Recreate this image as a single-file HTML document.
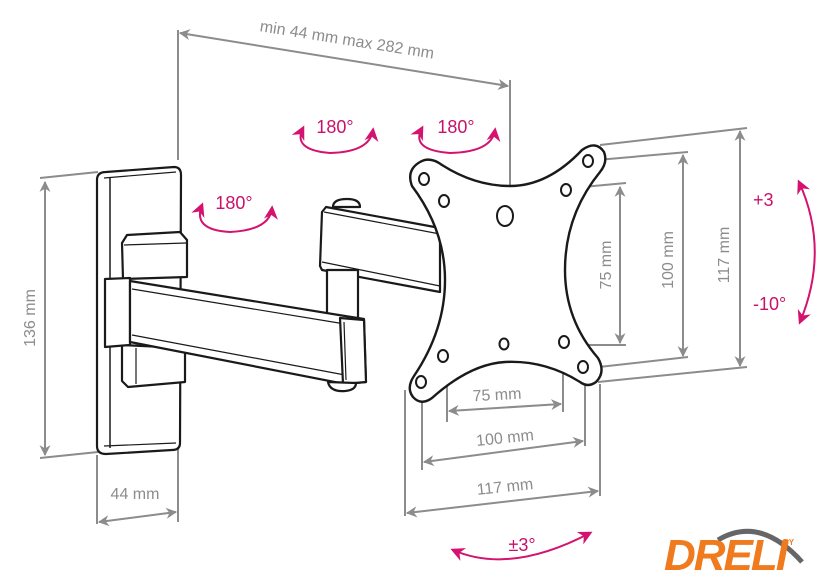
<!DOCTYPE html>
<html><head><meta charset="utf-8"><style>
html,body{margin:0;padding:0;background:#fff;}
svg{display:block;}
text{font-family:"Liberation Sans",sans-serif;}
</style></head><body>
<svg width="840" height="585" viewBox="0 0 840 585" xmlns="http://www.w3.org/2000/svg">
<defs>
<marker id="ga2" viewBox="0 0 10 10" refX="9" refY="5" markerWidth="18" markerHeight="11" orient="auto-start-reverse" markerUnits="userSpaceOnUse">
<path d="M0,0 L10,5 L0,10 L3,5 z" fill="#8c8c8c"/></marker>
<marker id="pa" viewBox="0 0 10 10" refX="8" refY="5" markerWidth="17" markerHeight="14" orient="auto-start-reverse" markerUnits="userSpaceOnUse">
<path d="M0,0 L10,5 L0,10 L3,5 z" fill="#d4126f"/></marker>
</defs>

<g stroke="#8c8c8c" stroke-width="2" fill="none">
<line x1="178" y1="30" x2="178" y2="160"/>
<line x1="510" y1="80" x2="510" y2="186"/>
<line x1="180" y1="33" x2="508" y2="86" marker-start="url(#ga2)" marker-end="url(#ga2)"/>
<line x1="40" y1="178" x2="98" y2="172"/>
<line x1="40" y1="458" x2="98" y2="452"/>
<line x1="45" y1="182" x2="45" y2="455" marker-start="url(#ga2)" marker-end="url(#ga2)"/>
<line x1="97" y1="455" x2="97" y2="524"/>
<line x1="178" y1="445" x2="178" y2="522"/>
<line x1="99" y1="522" x2="176" y2="512" marker-start="url(#ga2)" marker-end="url(#ga2)"/>
<line x1="600" y1="145" x2="747" y2="128"/>
<line x1="597" y1="160" x2="688" y2="152"/>
<line x1="572" y1="188" x2="626" y2="183"/>
<line x1="568" y1="345" x2="626" y2="345"/>
<line x1="590" y1="368" x2="688" y2="357"/>
<line x1="598" y1="382" x2="747" y2="367"/>
<line x1="620" y1="187" x2="620" y2="343" marker-start="url(#ga2)" marker-end="url(#ga2)"/>
<line x1="683" y1="155" x2="683" y2="356" marker-start="url(#ga2)" marker-end="url(#ga2)"/>
<line x1="740" y1="131" x2="740" y2="366" marker-start="url(#ga2)" marker-end="url(#ga2)"/>
<line x1="447" y1="360" x2="447" y2="422"/>
<line x1="563" y1="345" x2="563" y2="412"/>
<line x1="449" y1="411" x2="561" y2="404" marker-start="url(#ga2)" marker-end="url(#ga2)"/>
<line x1="422" y1="385" x2="422" y2="470"/>
<line x1="585" y1="370" x2="585" y2="446"/>
<line x1="424" y1="462" x2="583" y2="441" marker-start="url(#ga2)" marker-end="url(#ga2)"/>
<line x1="405" y1="390" x2="405" y2="516"/>
<line x1="600" y1="384" x2="600" y2="496"/>
<line x1="407" y1="513" x2="598" y2="491" marker-start="url(#ga2)" marker-end="url(#ga2)"/>
</g>
<g fill="#8c8c8c" font-size="16">
<text x="347" y="45" text-anchor="middle" transform="rotate(9 347 40)">min 44 mm max 282 mm</text>
<text x="0" y="0" text-anchor="middle" transform="translate(35 318) rotate(-90)">136 mm</text>
<text x="135" y="499" text-anchor="middle">44 mm</text>
<text x="0" y="0" text-anchor="middle" transform="translate(611 265) rotate(-90)">75 mm</text>
<text x="0" y="0" text-anchor="middle" transform="translate(673 260) rotate(-90)">100 mm</text>
<text x="0" y="0" text-anchor="middle" transform="translate(729 255) rotate(-90)">117 mm</text>
<text x="497" y="400" text-anchor="middle" transform="rotate(-3 497 395)">75 mm</text>
<text x="505" y="443" text-anchor="middle" transform="rotate(-6 505 438)">100 mm</text>
<text x="505" y="492" text-anchor="middle" transform="rotate(-6 505 487)">117 mm</text>
</g>

<g stroke="#1a1a1a" stroke-width="2.2" fill="#fff" stroke-linejoin="round">
<path d="M106,172 L174,167 Q181,167 181,175 L180,443 Q180,450 172,450 L106,454 Q97,454 97,446 L97,180 Q97,172 106,172 Z"/>
<line x1="110" y1="178" x2="110" y2="448" stroke-width="1.5"/>
<line x1="104" y1="178" x2="176" y2="172" stroke-width="1.2"/>
<line x1="104" y1="446" x2="176" y2="443" stroke-width="1.2"/>
<path d="M122,243 L127,235 L180,232 L187,240 L187,277 L123,279 Z"/>
<line x1="124" y1="245" x2="186" y2="243" stroke-width="1.2"/>
<path d="M122,345 L185,348 L185,382 L128,387 L122,381 Z"/>
<line x1="136" y1="348" x2="136" y2="384" stroke-width="1.2"/>
<path d="M105,279 L130,278 L130,345 L105,347 Z"/>
<path d="M322,212 L326,207 L440,228 L440,292 L322,270 L320,266 Z"/>
<line x1="324" y1="212" x2="440" y2="234" stroke-width="1.2"/>
<line x1="322" y1="262" x2="440" y2="286" stroke-width="1.2"/>
<path d="M333,207 Q333,199 347,199 Q360,199 360,207 Z"/>
<rect x="327" y="270" width="31" height="50"/>
<path d="M130,281 L345,316 L364,319 L366,382 L345,384 L130,342 Z"/>
<line x1="132" y1="289" x2="345" y2="324" stroke-width="1.2"/>
<line x1="132" y1="335" x2="345" y2="375" stroke-width="1.2"/>
<path d="M340,318 L364,320 L366,382 L343,384 Z"/>
<line x1="344" y1="322" x2="346" y2="380" stroke-width="1.2"/>
<path d="M328,382 Q330,392 345,391 Q356,390 356,383 Z"/>
</g>

<g stroke="#1a1a1a" stroke-width="2.4" fill="#fff">
<path d="M420,162 Q430,156 442,165 Q475,186 510,186 Q548,186 582,150 Q596,140 604,152 Q608,162 600,172 Q565,215 565,270 Q565,320 598,358 Q606,372 596,382 Q588,388 580,382 Q545,360 505,362 Q470,364 432,398 Q421,406 413,397 Q406,388 414,376 Q445,330 445,280 Q445,230 412,186 Q406,170 420,162 Z"/>
</g>
<g stroke="#1a1a1a" stroke-width="2" fill="#fff">
<ellipse cx="424" cy="179" rx="5" ry="6"/>
<ellipse cx="444" cy="201" rx="5" ry="6"/>
<ellipse cx="588" cy="161" rx="5" ry="6"/>
<ellipse cx="566" cy="190" rx="5" ry="6"/>
<ellipse cx="505" cy="216" rx="8" ry="10"/>
<ellipse cx="504" cy="344" rx="4.5" ry="5.5"/>
<ellipse cx="443" cy="356" rx="5" ry="6"/>
<ellipse cx="421" cy="382" rx="5" ry="6"/>
<ellipse cx="564" cy="342" rx="5" ry="6"/>
<ellipse cx="583" cy="367" rx="5" ry="6"/>
</g>

<g stroke="#d4126f" stroke-width="2" fill="none">
<path d="M303,128 Q292,150 330,153 Q370,152 373,130" marker-start="url(#pa)" marker-end="url(#pa)"/>
<path d="M422,128 Q410,150 450,153 Q492,152 495,130" marker-start="url(#pa)" marker-end="url(#pa)"/>
<path d="M202,205 Q192,230 230,232 Q270,230 272,208" marker-start="url(#pa)" marker-end="url(#pa)"/>
<path d="M799,182 Q830,250 800,322" marker-start="url(#pa)" marker-end="url(#pa)"/>
<path d="M453,550 Q510,575 590,533" marker-start="url(#pa)" marker-end="url(#pa)"/>
</g>
<g fill="#c8116a" font-size="18">
<text x="335" y="133" text-anchor="middle">180°</text>
<text x="456" y="133" text-anchor="middle">180°</text>
<text x="234" y="209" text-anchor="middle">180°</text>
<text x="753" y="206">+3</text>
<text x="753" y="310">-10°</text>
<text x="522" y="551" text-anchor="middle">±3°</text>
</g>

<path d="M718,540 Q760,515 802,562" stroke="#666" stroke-width="5" fill="none"/>
<text x="664" y="570" font-size="44" font-weight="bold" font-style="italic" fill="#f07a1e" style="letter-spacing:-2px">DRELI</text>
<text x="783" y="545" font-size="8" font-weight="bold" fill="#f07a1e">BY</text>
</svg>
</body></html>
